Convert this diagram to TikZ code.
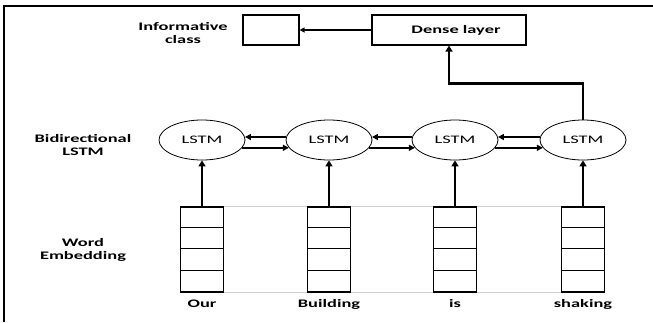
\documentclass[tikz,border=0pt]{standalone}
\usepackage{fontspec}
\setmainfont{Carlito}[FakeStretch=1.6]
\usetikzlibrary{arrows.meta, shapes.geometric, backgrounds}

\begin{document}
\begin{tikzpicture}[x=1pt, y=-1pt,
  lab/.style = {font=\bfseries\fontsize{11.5}{13}\selectfont, align=center},
  box/.style = {draw, line width=1.2pt, inner sep=0pt},
  lstm/.style = {draw, ellipse, line width=0.8pt, minimum width=86pt, minimum height=40pt, inner sep=0pt, font=\fontsize{11.5}{12}\selectfont},
  up/.style = {line width=2.8pt, -{Triangle[length=6pt, width=7pt]}},
  side/.style = {line width=2pt, -{Triangle[length=6pt, width=6pt]}}
]
\useasboundingbox (0,0) rectangle (653,322);
% frame
\draw[line width=2pt] (4,322) -- (4,6) -- (653,6);

% top row
\node[lab] (infolab) at (183,33) {Informative\\class};
\node[box, minimum width=56pt, minimum height=30pt] (info) at (271,30) {};
\node[box, lab, minimum width=154pt, minimum height=30pt] (dense) at (449,30) {\hspace{14pt}Dense layer};
\draw[line width=1.6pt, -{Triangle[length=5pt, width=5pt]}] (dense.west) -- (info.east);

% lstm and embeddings
\node[lab] (bilab) at (83,145) {Bidirectional\\LSTM};
\node[lab] (wemb) at (83,250) {Word\\Embedding};
\foreach \i/\x/\w in {1/202/Our, 2/329/Building, 3/455/is, 4/583/shaking}{
  \node[lstm] (lstm\i) at (\x,140) {LSTM};
  \node[box, minimum width=43pt, minimum height=85pt] (emb\i) at (\x,249.5) {};
  \foreach \k in {1,2,3}
    \draw[line width=1pt] ([yshift=-\k*21.25pt]emb\i.north west) -- ([yshift=-\k*21.25pt]emb\i.north east);
  \node[lab] (w\i) at (\x,304) {\w};
  \draw[up] (emb\i.north) -- (lstm\i.south);
}
\begin{scope}[on background layer]
\draw[gray!35, line width=1pt] (emb1.north west) -- (emb4.north east);
\draw[gray!35, line width=1pt] (emb1.south west) -- (emb4.south east);
\end{scope}

\foreach \a/\b in {1/2, 2/3, 3/4}{
  \draw[side] (lstm\b.176) -- (lstm\a.4);
  \draw[side] (lstm\a.-11) -- (lstm\b.191);
}
\draw[up] (lstm4.north) -- ++(0,-36) -| (dense.south);
\end{tikzpicture}
\end{document}
